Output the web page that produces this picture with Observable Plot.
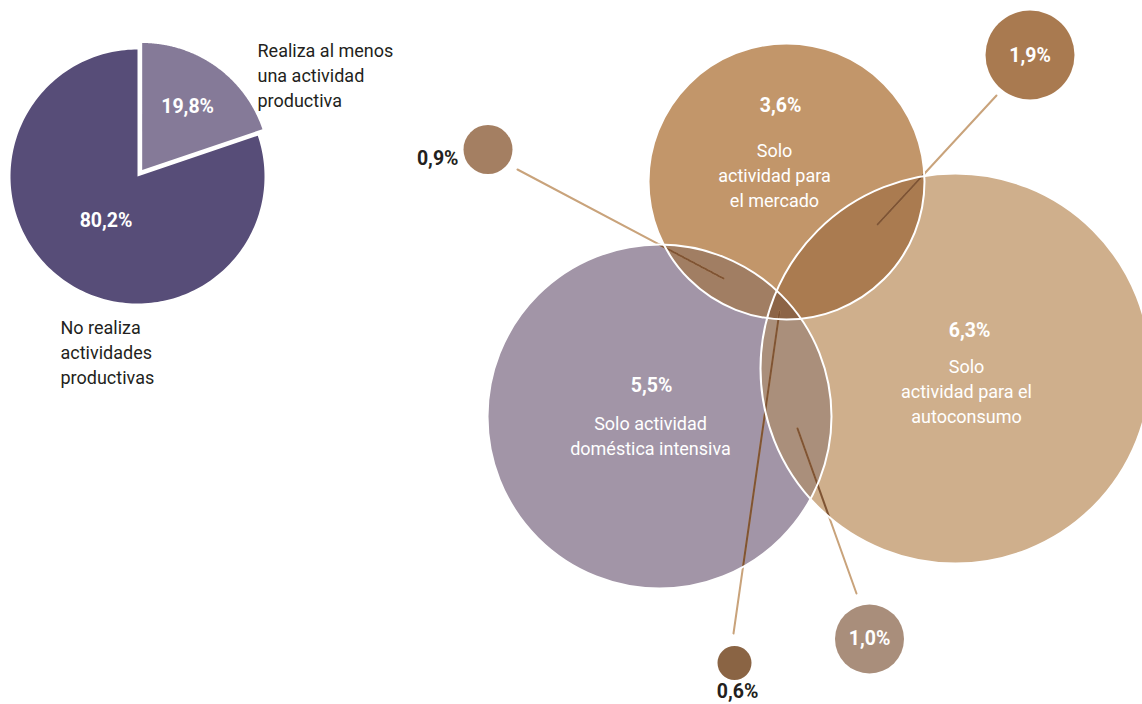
<!DOCTYPE html>
<html>
<head>
<meta charset="utf-8">
<script src="https://cdn.jsdelivr.net/npm/d3@7"></script>
<script src="https://cdn.jsdelivr.net/npm/@observablehq/plot@0.6"></script>
<style>
  html, body { margin: 0; padding: 0; background: #fff; }
  svg { display: block; }
</style>
</head>
<body>
<script>
// ---------------- DATA ----------------
// Pie: share of people by productive activity
const pieCategories = ["Realiza al menos\nuna actividad\nproductiva", "No realiza\nactividades\nproductivas"];
const pieValues = [19.8, 80.2];
const pieValueLabels = ["19,8%", "80,2%"];

// Venn: exclusive regions
const vennCategories = ["Solo\nactividad para\nel mercado", "Solo actividad\ndoméstica intensiva", "Solo\nactividad para el\nautoconsumo"];
const vennValues = [3.6, 5.5, 6.3];
const vennValueLabels = ["3,6%", "5,5%", "6,3%"];

// Venn: overlaps (mercado∩doméstica, mercado∩autoconsumo, doméstica∩autoconsumo, las tres)
const overlapCategories = ["mercado+domestica", "mercado+autoconsumo", "domestica+autoconsumo", "las tres"];
const overlapSets = [[0, 1], [0, 2], [1, 2], [0, 1, 2]];
const overlapValues = [0.9, 1.9, 1.0, 0.6];
const overlapValueLabels = ["0,9%", "1,9%", "1,0%", "0,6%"];

// ---------------- LAYOUT / STYLE ----------------
const W = 1142, H = 704;
const FONT = "Roboto, 'Liberation Sans', Arial, sans-serif";
const DARK = "#231f20";
const BOLD_SIZE = 19.5, TEXT_SIZE = 18;

const pieCenter = [137, 176], pieRadius = 127;
const pieColors = ["#857a98", "#574d78"];
const pieExplode = [8, 0];
const pieValueRadius = [78, 54];
const pieCatPos = [[257, 73], [60, 350]];

const vennGeom = [ // [cx, cy, r]
  [786, 181, 138],
  [659, 416, 172],
  [955, 368, 195]
];
const vennColors = ["#c2966a", "#a295a7", "#cfaf8c"];
const vennValuePos = [[780, 105], [651, 385], [969, 330]];
const vennCatPos = [[774, 173], [650, 434], [966, 389]];

const overlapColors = ["#a17e63", "#aa7b50", "#aa8f7b", "#8c6446"];
const bubbleGeom = [ // [cx, cy, r]
  [487.5, 149, 24.5],
  [1029.5, 54.5, 44.5],
  [869, 638.5, 34.5],
  [734, 662.5, 17]
];
const bubbleColors = ["#a47f62", "#a97a50", "#a98e7b", "#8a6444"];
const bubbleLabelPos = [[458, 158, "end", DARK], [1029.5, 55, "middle", "white"], [869, 638.5, "middle", "white"], [737, 691, "middle", DARK]];
const leaderStart = [[517, 169], [996, 95], [856, 593], [733, 633]];
const leaderEnd = [[723, 278], [877, 224], [797, 428], [779, 311]];
const leaderLight = "#c9a37b", leaderDark = "#7f5434";

// ---------------- GEOMETRY HELPERS ----------------
function circlePoly(cx, cy, r, n = 360) {
  const pts = [];
  for (let i = 0; i < n; i++) {
    const t = (i / n) * 2 * Math.PI;
    pts.push([cx + r * Math.cos(t), cy + r * Math.sin(t)]);
  }
  return pts;
}
function clipConvex(subject, clip) {
  let output = subject;
  const inside = (p, a, b) => (b[0] - a[0]) * (p[1] - a[1]) - (b[1] - a[1]) * (p[0] - a[0]) >= 0;
  const inter = (p, q, a, b) => {
    const a1 = q[1] - p[1], b1 = p[0] - q[0], c1 = a1 * p[0] + b1 * p[1];
    const a2 = b[1] - a[1], b2 = a[0] - b[0], c2 = a2 * a[0] + b2 * a[1];
    const det = a1 * b2 - a2 * b1;
    return [(b2 * c1 - b1 * c2) / det, (a1 * c2 - a2 * c1) / det];
  };
  for (let i = 0; i < clip.length; i++) {
    const a = clip[i], b = clip[(i + 1) % clip.length];
    const input = output;
    output = [];
    if (!input.length) break;
    let s = input[input.length - 1];
    for (const e of input) {
      if (inside(e, a, b)) {
        if (!inside(s, a, b)) output.push(inter(s, e, a, b));
        output.push(e);
      } else if (inside(s, a, b)) {
        output.push(inter(s, e, a, b));
      }
      s = e;
    }
  }
  return output;
}

// ---------------- PIE ----------------
const arcs = d3.pie().sort(null)(pieValues);
const pieMarks = [];
arcs.forEach((a, i) => {
  const mid = (a.startAngle + a.endAngle) / 2;
  const ox = pieCenter[0] + pieExplode[i] * Math.sin(mid);
  const oy = pieCenter[1] - pieExplode[i] * Math.cos(mid);
  const pts = [{x: ox, y: oy}];
  const steps = 200;
  for (let k = 0; k <= steps; k++) {
    const ang = a.startAngle + (a.endAngle - a.startAngle) * k / steps;
    pts.push({x: ox + pieRadius * Math.sin(ang), y: oy - pieRadius * Math.cos(ang)});
  }
  pieMarks.push(Plot.line(pts, {x: "x", y: "y", fill: pieColors[i], stroke: "none", curve: "linear-closed"}));
  pieMarks.push(Plot.text([{
    x: ox + pieValueRadius[i] * Math.sin(mid),
    y: oy - pieValueRadius[i] * Math.cos(mid),
    t: pieValueLabels[i]
  }], {x: "x", y: "y", text: "t", fill: "white", fontWeight: "bold", fontSize: BOLD_SIZE}));
  pieMarks.push(Plot.text([{x: pieCatPos[i][0], y: pieCatPos[i][1], t: pieCategories[i]}],
    {x: "x", y: "y", text: "t", fill: DARK, fontSize: TEXT_SIZE, textAnchor: "start", lineHeight: 25 / TEXT_SIZE}));
});

// ---------------- VENN ----------------
const vennCircles = vennGeom.map((g, i) => ({cx: g[0], cy: g[1], r: g[2], fill: vennColors[i], name: vennCategories[i]}));
const polys = vennGeom.map(g => circlePoly(g[0], g[1], g[2]));
const overlapPolys = overlapSets.map(set => {
  let p = polys[set[0]];
  for (let k = 1; k < set.length; k++) p = clipConvex(p, polys[set[k]]);
  return p.map(([x, y]) => ({x, y}));
});

// leader lines: light outside circles, dark inside
const insideAny = (x, y) => vennGeom.some(([cx, cy, r]) => (x - cx) ** 2 + (y - cy) ** 2 <= r * r);
const leaderLightData = [], leaderDarkData = [];
leaderStart.forEach((s, i) => {
  const e = leaderEnd[i];
  leaderLightData.push({x: s[0], y: s[1], z: i}, {x: e[0], y: e[1], z: i});
  const N = 400;
  let run = null, runId = 0;
  for (let k = 0; k <= N; k++) {
    const t = k / N;
    const x = s[0] + (e[0] - s[0]) * t, y = s[1] + (e[1] - s[1]) * t;
    if (insideAny(x, y)) {
      if (!run) { run = `${i}-${runId++}`; }
      leaderDarkData.push({x, y, z: run});
    } else run = null;
  }
});

const vennMarks = [
  ...vennCircles.map(c => Plot.dot([c], {x: "cx", y: "cy", r: "r", fill: c.fill, stroke: "none"})),
  ...overlapPolys.map((p, i) => Plot.line(p, {x: "x", y: "y", fill: overlapColors[i], stroke: "none", curve: "linear-closed"})),
  Plot.line(leaderLightData, {x: "x", y: "y", z: "z", stroke: leaderLight, strokeWidth: 2}),
  Plot.line(leaderDarkData, {x: "x", y: "y", z: "z", stroke: leaderDark, strokeWidth: 2}),
  Plot.dot(vennCircles, {x: "cx", y: "cy", r: "r", fill: "none", stroke: "white", strokeWidth: 2}),
  ...bubbleGeom.map((b, i) => Plot.dot([{cx: b[0], cy: b[1], r: b[2]}], {x: "cx", y: "cy", r: "r", fill: bubbleColors[i], stroke: "none"})),
  ...vennValueLabels.map((t, i) => Plot.text([{x: vennValuePos[i][0], y: vennValuePos[i][1], t}],
    {x: "x", y: "y", text: "t", fill: "white", fontWeight: "bold", fontSize: BOLD_SIZE})),
  ...vennCategories.map((t, i) => Plot.text([{x: vennCatPos[i][0], y: vennCatPos[i][1], t}],
    {x: "x", y: "y", text: "t", fill: "white", fontSize: TEXT_SIZE, lineHeight: 25 / TEXT_SIZE})),
  ...overlapValueLabels.map((t, i) => Plot.text([{x: bubbleLabelPos[i][0], y: bubbleLabelPos[i][1], t}],
    {x: "x", y: "y", text: "t", fill: bubbleLabelPos[i][3], textAnchor: bubbleLabelPos[i][2], fontWeight: "bold", fontSize: BOLD_SIZE}))
];

const chart = Plot.plot({
  width: W,
  height: H,
  margin: 0,
  x: {domain: [0, W], range: [0, W], axis: null},
  y: {domain: [0, H], range: [0, H], axis: null},
  r: {type: "linear", domain: [0, 1000], range: [0, 1000]},
  style: {fontFamily: FONT, background: "white", overflow: "hidden"},
  marks: [...pieMarks, ...vennMarks]
});
document.body.appendChild(chart);
</script>
</body>
</html>
